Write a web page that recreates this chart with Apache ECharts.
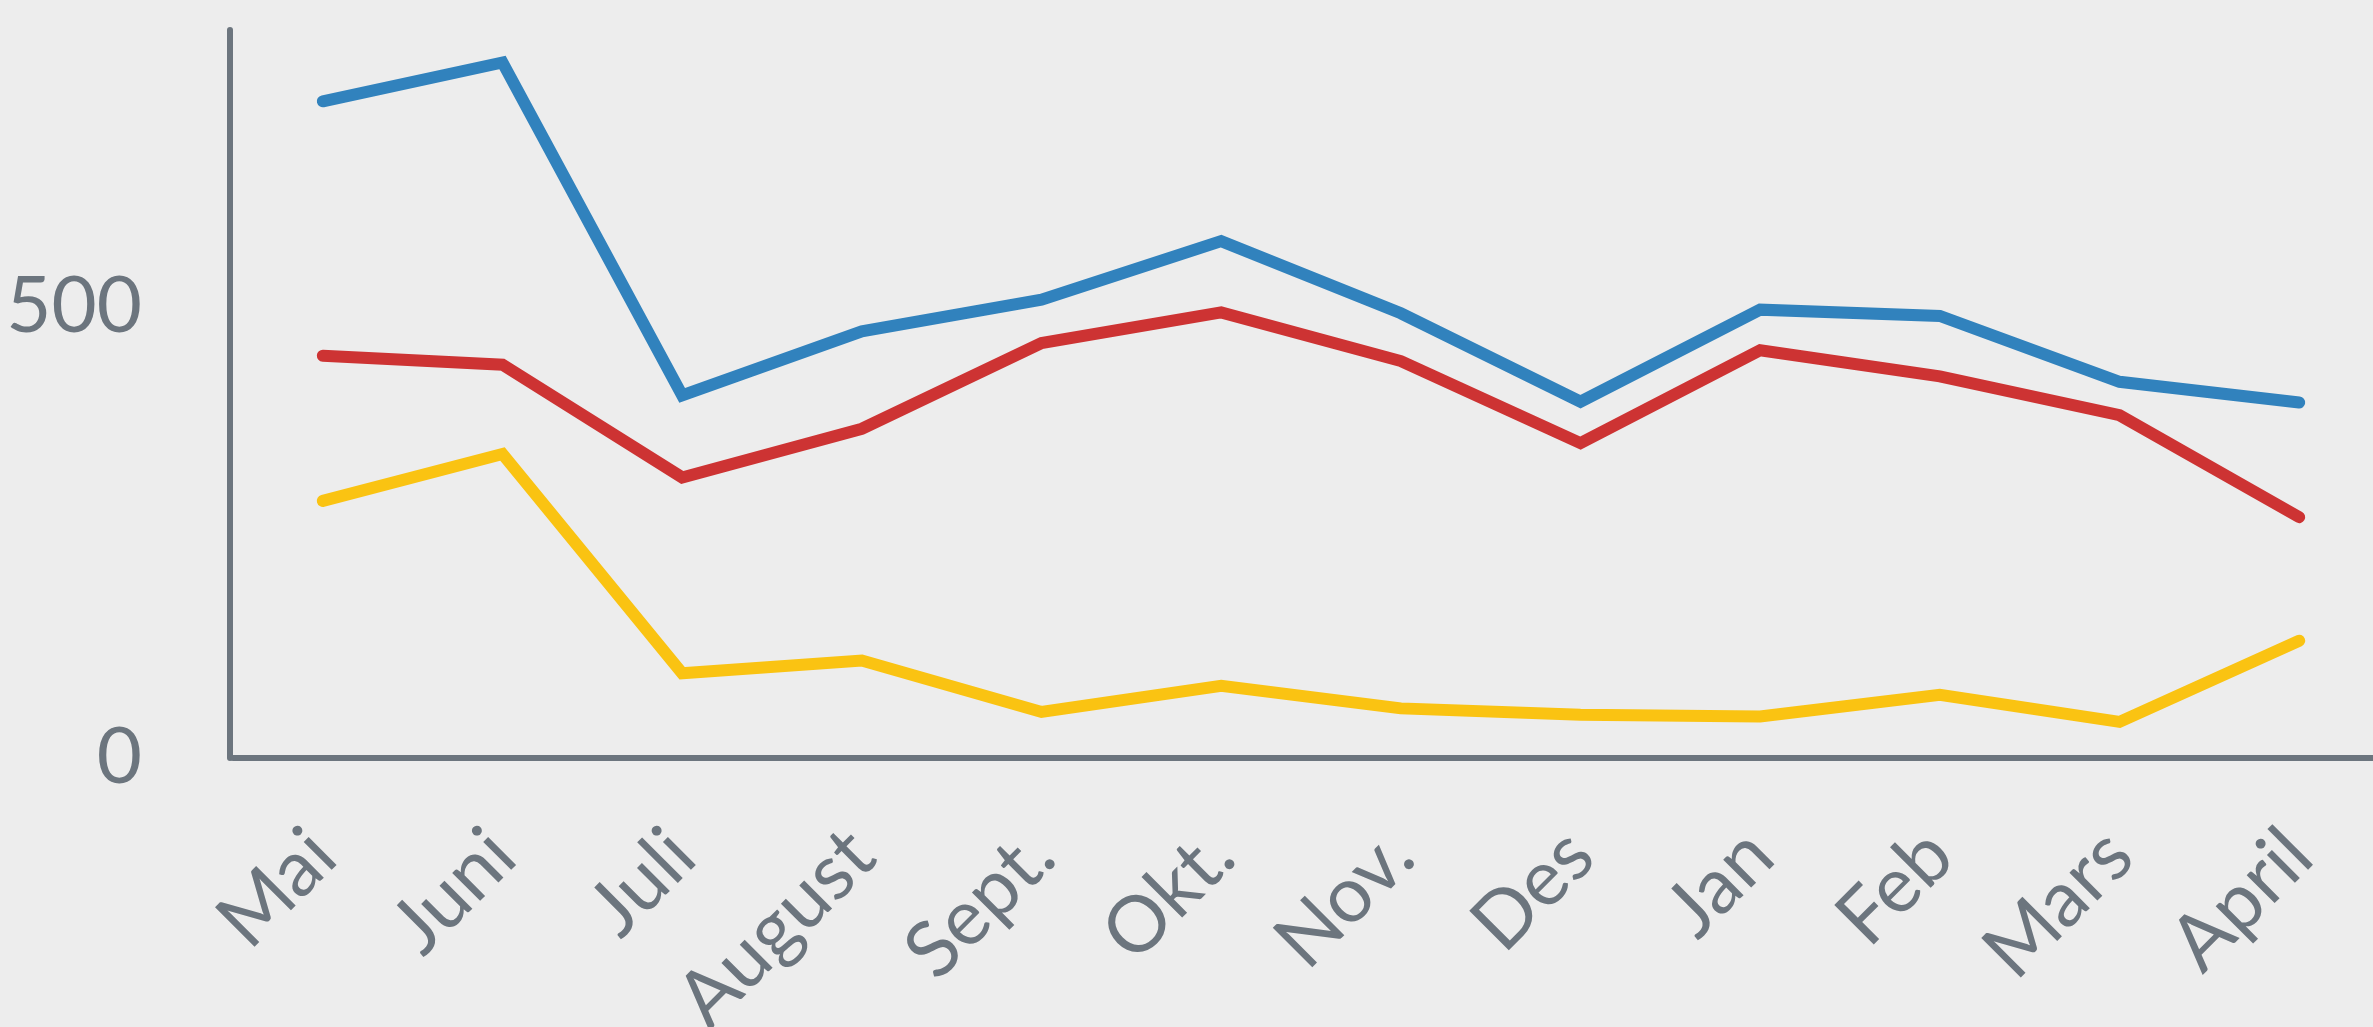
<!DOCTYPE html>
<html>
<head>
<meta charset="utf-8">
<script src="https://cdn.jsdelivr.net/npm/echarts@6/dist/echarts.min.js"></script>
<style>
  html, body { margin: 0; padding: 0; background: #ededed; }
  #box01 { width: 2373px; height: 1027px; }
</style>
</head>
<body>
<div id="box01"></div>
<script>
// data
var months = ['Mai', 'Juni', 'Juli', 'August', 'Sept.', 'Okt.', 'Nov.', 'Des', 'Jan', 'Feb', 'Mars', 'April'];
var blueValues = [728, 771, 402, 473, 508, 573, 493, 395, 497, 490, 417, 394];
var redValues = [446, 436, 311, 365, 460, 494, 440, 349, 452, 423, 380, 267];
var yellowValues = [285, 337, 94, 108, 51, 80, 55, 48, 46, 70, 40, 130];
var yTicks = [0, 500];

var axisColor = '#6c757e';
var fontName = 'Lato';

function makeLine(name, data, color) {
    return {
        name: name,
        type: 'line',
        data: data,
        symbol: 'none',
        animation: false,
        lineStyle: {
            color: color,
            width: 12,
            cap: 'round',
            join: 'miter'
        }
    };
}

var myChart = echarts.init(document.getElementById('box01'));

var option = {
    backgroundColor: '#ededed',
    animation: false,
    grid: {
        left: 233,
        right: -16,
        top: 30,
        bottom: 269,
        containLabel: false,
        outerBoundsMode: 'none'
    },
    xAxis: [
        {
            type: 'category',
            data: months,
            boundaryGap: true,
            axisLine: { show: true, lineStyle: { color: axisColor, width: 6 } },
            axisTick: { show: false },
            axisLabel: {
                rotate: 45,
                margin: 85,
                color: axisColor,
                fontFamily: fontName,
                fontSize: 78,
                interval: 0
            }
        }
    ],
    yAxis: [
        {
            type: 'value',
            min: 0,
            max: 807,
            interval: 500,
            offset: 3,
            splitLine: { show: false },
            axisTick: { show: false },
            axisLine: { show: true, lineStyle: { color: axisColor, width: 6 } },
            axisLabel: {
                margin: 88,
                color: axisColor,
                fontFamily: fontName,
                fontSize: 78,
                formatter: function (v) {
                    return yTicks.indexOf(v) >= 0 ? String(v) : '';
                }
            }
        }
    ],
    series: [
        makeLine('blå', blueValues, '#3182bd'),
        makeLine('rød', redValues, '#cd3333'),
        makeLine('gul', yellowValues, '#fac312')
    ]
};

myChart.setOption(option);
</script>
</body>
</html>
